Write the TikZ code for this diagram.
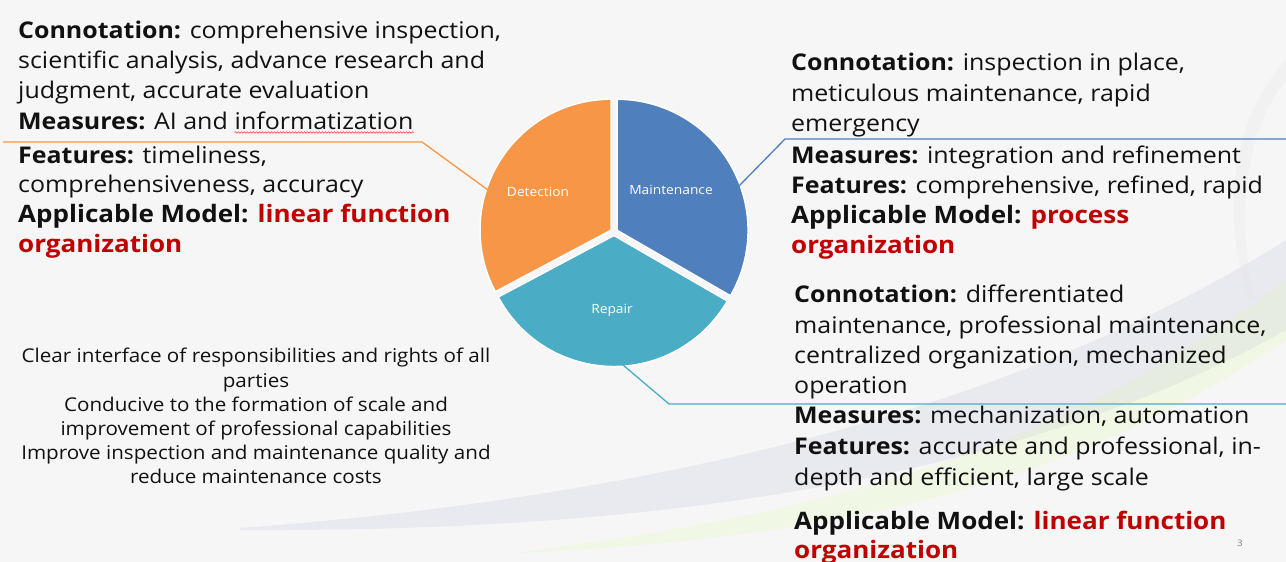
\documentclass[tikz,border=0pt]{standalone}
\usepackage{fontspec}
\setmainfont{Open Sans}[FakeStretch=1.085]
\usetikzlibrary{calc,decorations.pathmorphing}
\definecolor{bgc}{HTML}{F6F6F6}
\definecolor{detc}{HTML}{F79646}
\definecolor{mntc}{HTML}{4F7FBD}
\definecolor{repc}{HTML}{4BACC6}
\definecolor{redt}{HTML}{C00000}
\definecolor{txtc}{HTML}{111111}
\newcommand{\tline}[5][txt]{\node[#1, anchor=base west] (#2) at (#3,#4) {#5};}
\tikzset{
  txt/.style={inner sep=0pt, text=txtc, font=\fontsize{23}{26}\selectfont},
  big/.style={inner sep=0pt, text=txtc, font=\fontsize{24}{28}\selectfont},
  note/.style={inner sep=0pt, text=txtc, font=\fontsize{19}{24}\selectfont, anchor=base},
  pielabel/.style={text=white, font=\fontsize{12.7}{14}\selectfont, inner sep=1pt},
  slice/.style={draw=white, line width=1.5pt},
  conn/.style={line width=1.3pt},
}
\begin{document}
\begin{tikzpicture}[x=1pt,y=-1pt]
\useasboundingbox (0,0) rectangle (1286,562);
\fill[bgc] (0,0) rectangle (1286,562);
% background swooshes
\fill[blue!30!gray!30, opacity=0.3] (240,528) .. controls (620,500) and (1000,420) .. (1286,240)
  -- (1286,330) .. controls (1000,490) and (620,532) .. (240,530) -- cycle;
\fill[green!35!yellow!40, opacity=0.18] (520,552) .. controls (900,505) and (1100,420) .. (1286,280)
  -- (1286,340) .. controls (1100,465) and (900,535) .. (520,553) -- cycle;
\fill[gray!20, opacity=0.25] (1286,60) .. controls (1230,120) and (1220,220) .. (1250,300)
  -- (1255,300) .. controls (1235,220) and (1245,130) .. (1286,80) -- cycle;

% pie
\coordinate (c) at (614,232);
\fill[detc, slice] ($(c)+(149:3.5pt)$) -- ++(90:131pt) arc[start angle=90, end angle=208, radius=131pt] -- cycle;
\fill[mntc, slice] ($(c)+(30:3.5pt)$) -- ++(330:131pt) arc[start angle=-30, end angle=90, radius=131pt] -- cycle;
\fill[repc, slice] ($(c)+(269:3.5pt)$) -- ++(208:131pt) arc[start angle=208, end angle=330, radius=131pt] -- cycle;
\node[pielabel] (det) at (538,192) {Detection};
\node[pielabel] (mnt) at (671,190) {Maintenance};
\node[pielabel] (rep) at (612,310) {Repair};

% connectors
\coordinate (dA) at (488,190); \coordinate (dB) at (422,142); \coordinate (dC) at (3,142);
\coordinate (mA) at (738,187); \coordinate (mB) at (785,139); \coordinate (mC) at (1286,139);
\coordinate (rA) at (623,365); \coordinate (rB) at (669,404); \coordinate (rC) at (1286,404);
\draw[conn, draw=detc] (dA) -- (dB) -- (dC);
\draw[conn, draw=mntc] (mA) -- (mB) -- (mC);
\draw[conn, draw=repc] (rA) -- (rB) -- (rC);

% left block
\tline{L1}{18}{38}{\textbf{Connotation:} comprehensive inspection,}
\tline{L2}{18}{68}{scientific analysis, advance research and}
\tline{L3}{18}{98}{judgment, accurate evaluation}
\tline{L4}{18}{129}{\textbf{Measures:} AI and}
\node[txt, anchor=base west] (L4w) at ([xshift=6.5pt]L4.base east) {informatization};
\draw[red!75, line width=0.6pt, decorate, decoration={snake, amplitude=0.8pt, segment length=3pt}]
  ($(L4w.base west)+(0,3.5)$) -- ($(L4w.base east)+(0,3.5)$);
\tline{L5}{18}{163}{\textbf{Features:} timeliness,}
\tline{L6}{18}{192}{comprehensiveness, accuracy}
\tline[big]{L7}{18}{222}{\textbf{Applicable Model: \textcolor{redt}{linear function}}}
\tline[big]{L8}{18}{252}{\textbf{\textcolor{redt}{organization}}}

% right top block
\tline{R1}{791}{70}{\textbf{Connotation:} inspection in place,}
\tline{R2}{791}{101}{meticulous maintenance, rapid}
\tline{R3}{791}{131}{emergency}
\tline{R4}{791}{163}{\textbf{Measures:} integration and refinement}
\tline{R5}{791}{193}{\textbf{Features:} comprehensive, refined, rapid}
\tline[big]{R6}{791}{223}{\textbf{Applicable Model: \textcolor{redt}{process}}}
\tline[big]{R7}{791}{253}{\textbf{\textcolor{redt}{organization}}}

% right bottom block
\tline{S1}{794}{302}{\textbf{Connotation:} differentiated}
\tline{S2}{794}{333}{maintenance, professional maintenance,}
\tline{S3}{794}{363}{centralized organization, mechanized}
\tline{S4}{794}{393}{operation}
\tline{S5}{794}{423}{\textbf{Measures:} mechanization, automation}
\tline{S6}{794}{454}{\textbf{Features:} accurate and professional, in-}
\tline{S7}{794}{485}{depth and efficient, large scale}
\tline[big]{S8}{794}{529}{\textbf{Applicable Model: \textcolor{redt}{linear function}}}
\tline[big]{S9}{794}{558}{\textbf{\textcolor{redt}{organization}}}

% bottom-left notes
\node[note] (B1) at (256,362) {Clear interface of responsibilities and rights of all};
\node[note] (B2) at (256,387) {parties};
\node[note] (B3) at (256,411) {Conducive to the formation of scale and};
\node[note] (B4) at (256,435) {improvement of professional capabilities};
\node[note] (B5) at (256,459) {Improve inspection and maintenance quality and};
\node[note] (B6) at (256,483) {reduce maintenance costs};

\node[text=gray, font=\fontsize{9}{10}\selectfont, inner sep=0pt] (pg) at (1240,543) {3};
\end{tikzpicture}
\end{document}
